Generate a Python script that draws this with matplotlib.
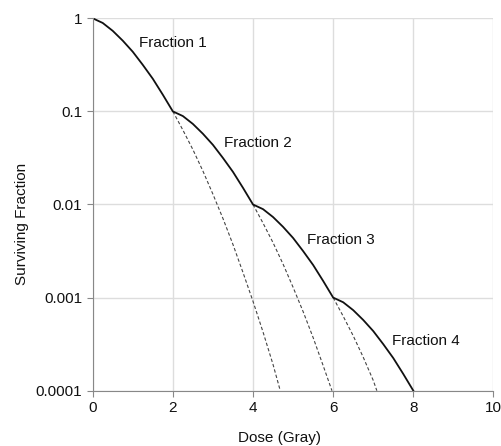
import matplotlib

matplotlib.use("Agg")
import matplotlib.pyplot as plt
import matplotlib.ticker as mticker

plt.rc("font", family="Liberation Sans")
plt.rc("font", size=11)

# cumulative survival over four 2-Gy fractions (solid curve)
dose = [0.0, 0.25, 0.5, 0.75, 1.0, 1.25, 1.5, 1.75,
        2.0, 2.25, 2.5, 2.75, 3.0, 3.25, 3.5, 3.75,
        4.0, 4.25, 4.5, 4.75, 5.0, 5.25, 5.5, 5.75,
        6.0, 6.25, 6.5, 6.75, 7.0, 7.25, 7.5, 7.75, 8.0]
survival = [1.0, 0.891, 0.733, 0.575, 0.437, 0.316, 0.224, 0.151,
            0.1, 0.0891, 0.0733, 0.0575, 0.0437, 0.0316, 0.0224, 0.0151,
            0.01, 0.00891, 0.00733, 0.00575, 0.00437, 0.00316, 0.00224, 0.00151,
            0.001, 0.000891, 0.000733, 0.000575, 0.000437, 0.000316, 0.000224,
            0.000151, 0.0001]

# single-dose curve continued past each fraction (dashed)
dose_after_1 = [2.0, 2.25, 2.5, 2.75, 3.0, 3.25, 3.5, 3.75, 4.0, 4.25, 4.5, 4.68]
surv_after_1 = [0.1, 0.0631, 0.0389, 0.0229, 0.0129, 0.00708, 0.00372,
                0.00186, 0.000912, 0.000427, 0.000191, 0.0001]
dose_after_2 = [4.0, 4.25, 4.5, 4.75, 5.0, 5.25, 5.5, 5.75, 5.97]
surv_after_2 = [0.01, 0.00631, 0.00389, 0.00229, 0.00129, 0.000708,
                0.000372, 0.000186, 0.0001]
dose_after_3 = [6.0, 6.25, 6.5, 6.75, 7.0, 7.09]
surv_after_3 = [0.001, 0.000631, 0.000389, 0.000229, 0.000129, 0.0001]

fraction_labels = ["Fraction 1", "Fraction 2", "Fraction 3", "Fraction 4"]
label_x = [2.0, 4.13, 6.19, 8.31]
label_y = [0.54, 0.046, 0.0042, 0.00034]

y_ticks = [0.0001, 0.001, 0.01, 0.1, 1]
y_tick_labels = ["0.0001", "0.001", "0.01", "0.1", "1"]
x_ticks = [0, 2, 4, 6, 8, 10]

fig = plt.figure(figsize=(5.01, 4.46), dpi=100)
ax = fig.add_axes([0.185, 0.124, 0.800, 0.835])

for d, s in [(dose_after_1, surv_after_1), (dose_after_2, surv_after_2),
             (dose_after_3, surv_after_3)]:
    ax.plot(d, s, color="#444444", linewidth=0.8, linestyle=(0, (3, 2)))
ax.plot(dose, survival, color="#111111", linewidth=1.3)

for text, x, y in zip(fraction_labels, label_x, label_y):
    ax.text(x, y, text, ha="center", va="center", color="#111111")

ax.set_yscale("log")
ax.set_xlim(0, 10)
ax.set_ylim(1e-4, 1)
ax.yaxis.set_major_locator(mticker.FixedLocator(y_ticks))
ax.yaxis.set_major_formatter(mticker.FixedFormatter(y_tick_labels))
ax.yaxis.set_minor_locator(mticker.NullLocator())
ax.set_xticks(x_ticks)

ax.grid(True, color="#dddddd", linewidth=1.0)
ax.set_axisbelow(True)
for side in ["top", "right"]:
    ax.spines[side].set_visible(False)
for side in ["left", "bottom"]:
    ax.spines[side].set_color("#888888")
ax.tick_params(direction="out", length=4, color="#888888", labelcolor="#111111")

ax.set_xlabel("Dose (Gray)", color="#111111")
ax.set_ylabel("Surviving Fraction", color="#111111")
ax.xaxis.set_label_coords(0.467, -0.108)
ax.yaxis.set_label_coords(-0.159, 0.448)

fig.savefig("out.png", dpi=100)
